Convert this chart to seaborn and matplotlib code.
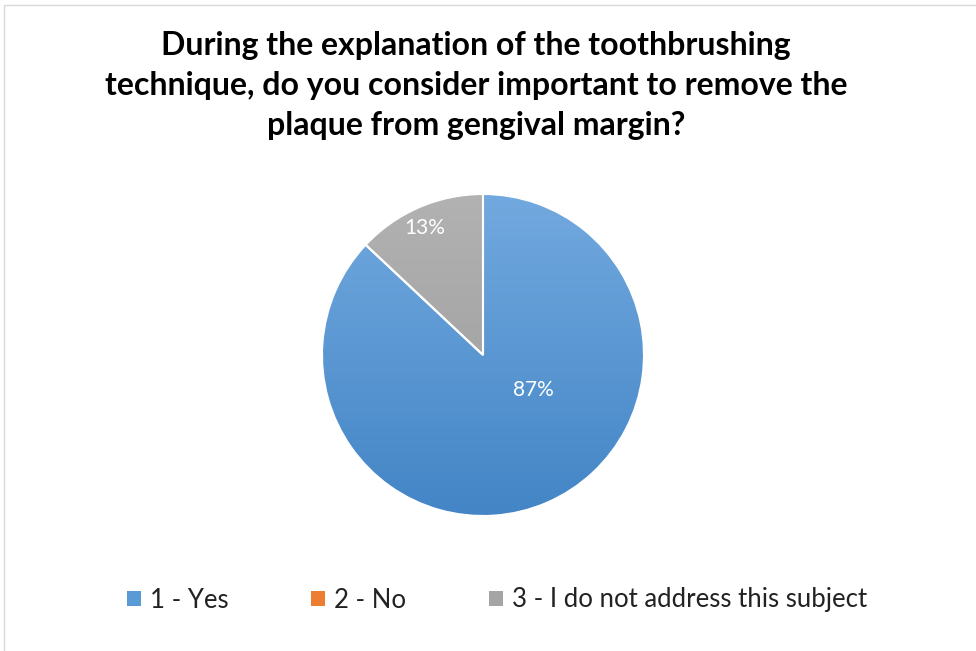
import numpy as np
import matplotlib.pyplot as plt
import seaborn as sns
from matplotlib.colors import LinearSegmentedColormap
from matplotlib.patches import Patch, Rectangle

title = ("During the explanation of the toothbrushing\n"
         "technique, do you consider important to remove the\n"
         "plaque from gengival margin?")
categories = ['1 - Yes', '2 - No', '3 - I do not address this subject']
shares = [87, 0, 13]
legend_colors = ['#5b9bd5', '#ed7d31', '#a5a5a5']
colors_top = ['#72a9df', '#f4873a', '#b2b2b2']
colors_bottom = ['#4385c6', '#e06f20', '#999999']
label_pos = [(0.31, -0.22), None, (-0.36, 0.79)]

sns.set_theme(style='white')
plt.rcParams['font.family'] = ['Lato', 'DejaVu Sans']

fig = plt.figure(figsize=(9.76, 6.51), dpi=100)
lim = 1.02
side = 161 * 2 * lim
ax = fig.add_axes([(483 - side / 2) / 976, (651 - 355 - side / 2) / 651, side / 976, side / 651])

wedges, _ = ax.pie(shares, startangle=90, counterclock=False, colors=legend_colors,
                   wedgeprops=dict(edgecolor='white', linewidth=1.5))

# vertical gradient fill, clipped to each slice
grad = np.linspace(1, 0, 256).reshape(-1, 1)
for w, s, top, bot in zip(wedges, shares, colors_top, colors_bottom):
    if s == 0:
        continue
    cmap = LinearSegmentedColormap.from_list('g', [bot, top])
    im = ax.imshow(grad, extent=[-1, 1, -1, 1], cmap=cmap, aspect='auto', zorder=1)
    im.set_clip_path(w)
    w.set_facecolor('none')
    w.set_zorder(2)

for s, pos in zip(shares, label_pos):
    if s == 0 or pos is None:
        continue
    ax.text(pos[0], pos[1], f'{s}%', ha='center', va='center', color='white', fontsize=15, zorder=3)

ax.set_xlim(-lim, lim)
ax.set_ylim(-lim, lim)
ax.set_axis_off()

fig.text(0.488, 0.953, title, ha='center', va='top', fontsize=23, fontweight='bold',
         linespacing=1.47, color='black')

handles = [Patch(facecolor=c, edgecolor='none') for c in legend_colors]
fig.legend(handles, categories, ncol=3, loc='center', bbox_to_anchor=(497 / 976, 1 - 600 / 651),
           frameon=False, fontsize=18.5, handlelength=0.55, handleheight=0.55,
           columnspacing=3.2, handletextpad=0.35, labelcolor='#222222')

fig.patches.append(Rectangle((4 / 976, -0.1), 1.2, (651 - 5) / 651 + 0.1, transform=fig.transFigure,
                             fill=False, edgecolor='#d9d9d9', lw=1))

fig.savefig('out.png', dpi=100, facecolor='white')
